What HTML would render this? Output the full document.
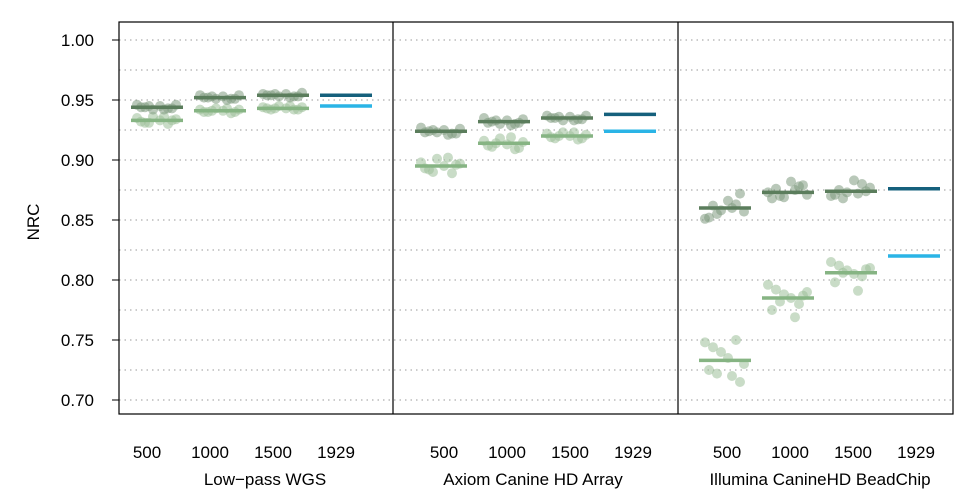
<!DOCTYPE html>
<html><head><meta charset="utf-8"><style>
body{margin:0;background:#fff;}
svg{display:block;font-family:"Liberation Sans",Arial,sans-serif;}
</style></head><body>
<svg id="c" width="955" height="494"></svg>
<script>
const panels=["Low\u2212pass WGS","Axiom Canine HD Array","Illumina CanineHD BeadChip"];
const sizes=["500","1000","1500","1929"];
const yTicks=[0.70,0.75,0.80,0.85,0.90,0.95,1.00];
const meanDark=[[0.944,0.952,0.954,0.954],[0.924,0.932,0.935,0.938],[0.860,0.873,0.874,0.876]];
const meanLight=[[0.933,0.941,0.943,0.945],[0.895,0.914,0.920,0.924],[0.733,0.785,0.806,0.820]];
const ptsDark=[
 [[0.945,0.943,0.946,0.944,0.942,0.945,0.943,0.946,0.944,0.942],[0.953,0.951,0.954,0.952,0.950,0.953,0.951,0.954,0.952,0.951],[0.955,0.953,0.956,0.954,0.952,0.955,0.953,0.955,0.954,0.953]],
 [[0.925,0.922,0.926,0.923,0.921,0.925,0.922,0.927,0.924,0.923],[0.933,0.930,0.934,0.931,0.929,0.933,0.931,0.935,0.932,0.930],[0.936,0.934,0.937,0.935,0.933,0.936,0.934,0.937,0.935,0.933]],
 [[0.866,0.863,0.857,0.852,0.860,0.855,0.872,0.851,0.862,0.858],[0.882,0.878,0.871,0.868,0.875,0.870,0.879,0.873,0.876,0.869],[0.883,0.880,0.877,0.871,0.872,0.868,0.874,0.870,0.875,0.873]]];
const ptsLight=[
 [[0.935,0.931,0.936,0.933,0.930,0.934,0.932,0.936,0.931,0.933],[0.942,0.940,0.943,0.941,0.939,0.942,0.940,0.943,0.941,0.940],[0.944,0.942,0.945,0.943,0.942,0.944,0.943,0.945,0.943,0.942]],
 [[0.898,0.892,0.901,0.895,0.889,0.897,0.893,0.902,0.890,0.896],[0.916,0.911,0.918,0.913,0.909,0.915,0.912,0.919,0.914,0.910],[0.922,0.918,0.923,0.920,0.917,0.921,0.919,0.923,0.920,0.918]],
 [[0.748,0.744,0.740,0.735,0.750,0.730,0.725,0.720,0.722,0.715],[0.796,0.792,0.788,0.785,0.780,0.790,0.775,0.769,0.782,0.787],[0.815,0.812,0.808,0.805,0.803,0.810,0.798,0.791,0.806,0.809]]];
const jit=[-20,-12,-4,3,11,19,-16,7,-8,15];
const NS="http://www.w3.org/2000/svg";
const svg=document.getElementById('c');
const L=119,R=953,T=22,B=414;
const firstCenter=[157,441,725];
const labelShift=[-10,3,2];
const panelLabelX=[265,533,820];
const y=v=>40+(1-v)*1200;
const xc=(p,i)=>firstCenter[p]+i*63;
function mk(t,a,parent){const e=document.createElementNS(NS,t);for(const k in a)e.setAttribute(k,a[k]);(parent||svg).appendChild(e);return e;}
for(let v=0.70;v<=1.0001;v+=0.025){
 const g=mk('line',{x1:L,x2:R,y1:y(v),y2:y(v),stroke:'#999','stroke-dasharray':'1.5 4','stroke-width':1});
 
 
}
yTicks.forEach(v=>{
 const t=mk('line',{x1:L-7,x2:L,y1:y(v),y2:y(v),stroke:'#000'});
 
 
 const l=mk('text',{x:L-25,y:y(v)+6,'text-anchor':'end','font-size':17});
 l.textContent=v.toFixed(2);
 
 
});
const yt=mk('text',{x:39,y:222,'text-anchor':'middle','font-size':17,transform:'rotate(-90 39 222)'});
yt.textContent='NRC';


panels.forEach((name,p)=>{
 sizes.forEach((s,i)=>{
  const x=xc(p,i);
  const tl=mk('text',{x:x+labelShift[p],y:458,'text-anchor':'middle','font-size':17});
  tl.textContent=s;
  
  
  if(i<3){
   ptsLight[p][i].forEach((v,k)=>{
    const c=mk('circle',{cx:x+jit[k],cy:y(v),r:5,fill:'#9dbf99','fill-opacity':0.55});
    
    
   });
   ptsDark[p][i].forEach((v,k)=>{
    const c=mk('circle',{cx:x+jit[(k+3)%10],cy:y(v),r:5,fill:'#7f9a7f','fill-opacity':0.55});
    
    
   });
  }
  const ml=mk('line',{x1:x-26,x2:x+26,y1:y(meanLight[p][i]),y2:y(meanLight[p][i]),stroke:i<3?'#86b483':'#2ab4e6','stroke-width':3.5});
  
  
  const md=mk('line',{x1:x-26,x2:x+26,y1:y(meanDark[p][i]),y2:y(meanDark[p][i]),stroke:i<3?'#5b7d5c':'#15607c','stroke-width':3.5});
  
  
 });
 const pl=mk('text',{x:panelLabelX[p],y:485,'text-anchor':'middle','font-size':17});
 pl.textContent=name;
 
 
});
[393,678].forEach(x=>{
 const d=mk('line',{x1:x,x2:x,y1:T,y2:B,stroke:'#000','stroke-width':1.2});
 
 
});
const fr=mk('rect',{x:L,y:T,width:R-L,height:B-T,fill:'none',stroke:'#000','stroke-width':1.2});


</script>
</body></html>
